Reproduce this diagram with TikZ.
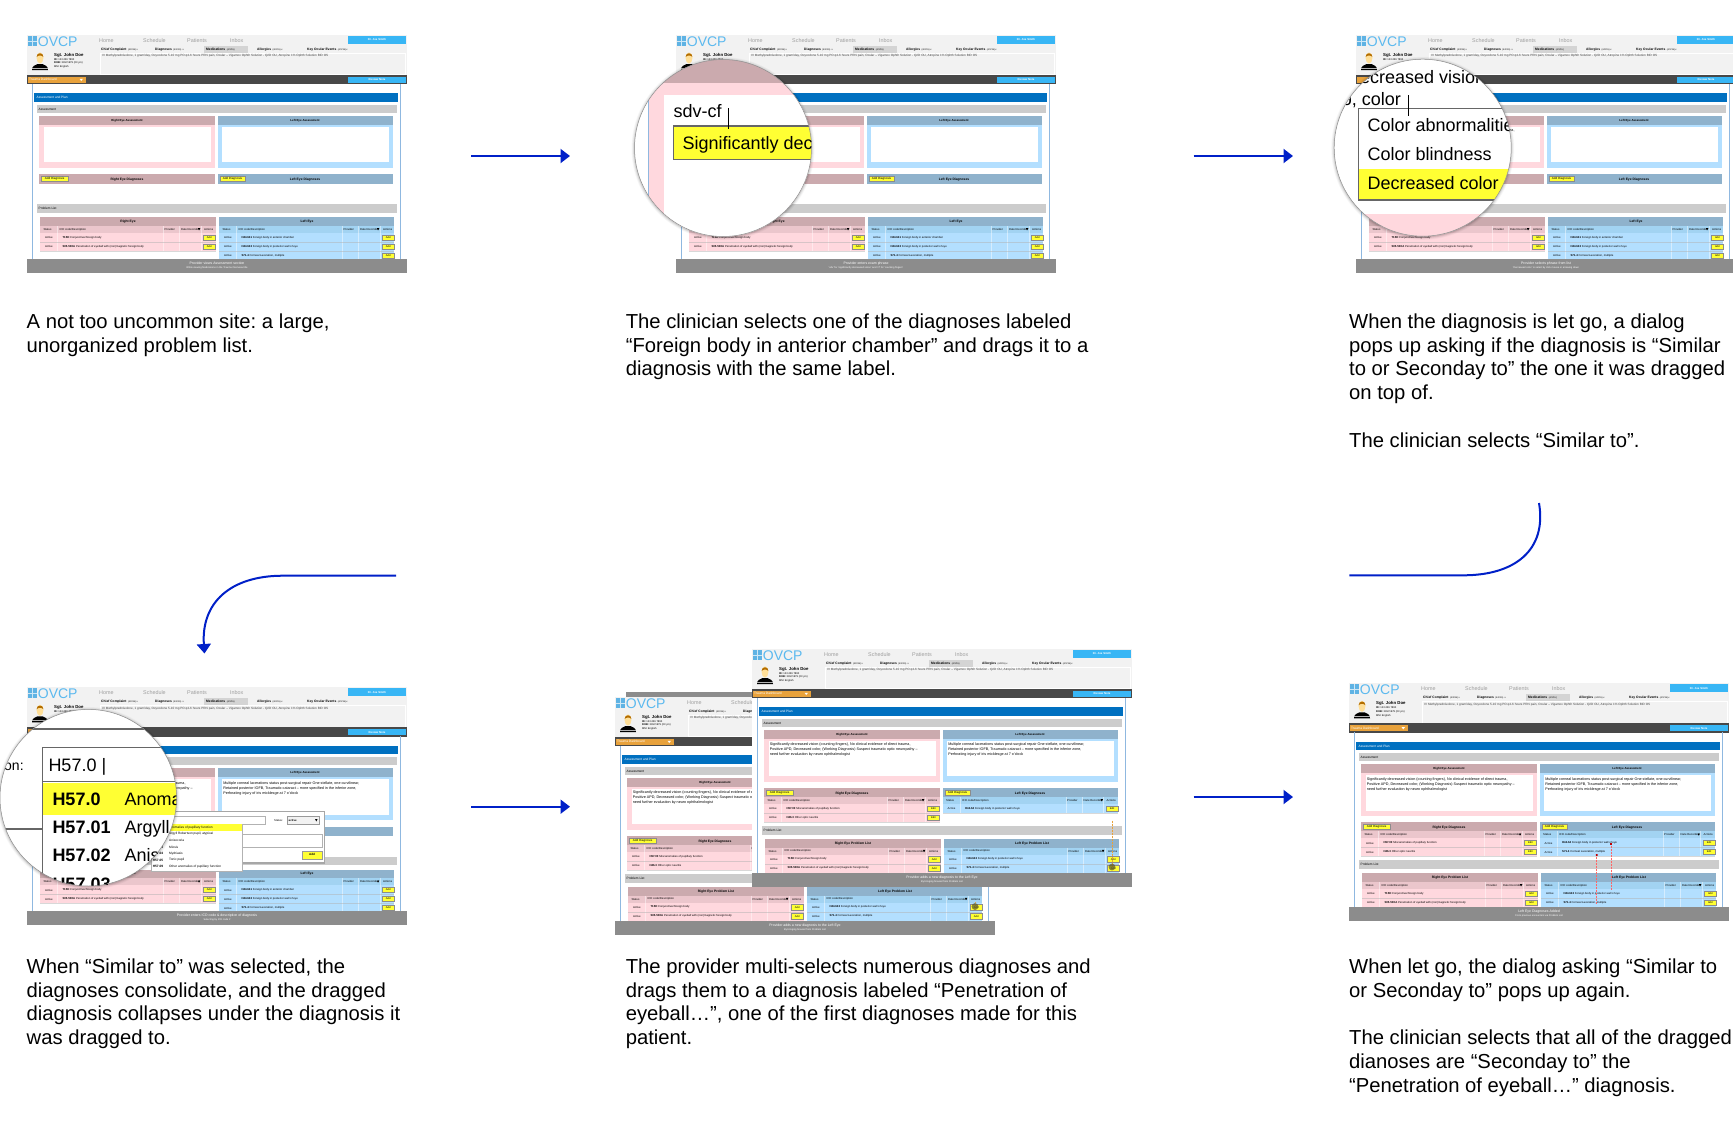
\documentclass[tikz,border=0pt]{standalone}
\usepackage{fontspec}
\setmainfont{Liberation Sans}
\usetikzlibrary{arrows.meta}
\definecolor{hdrbg}{HTML}{F2F2F2}
\definecolor{darkbar}{HTML}{484848}
\definecolor{logoblue}{HTML}{5FB3E4}
\definecolor{ovcp}{HTML}{5BB9EF}
\definecolor{sky}{HTML}{38B6F5}
\definecolor{amber}{HTML}{E8A23C}
\definecolor{planblue}{HTML}{0070C0}
\definecolor{secgray}{HTML}{CCCCCC}
\definecolor{rosehead}{HTML}{CBAAAE}
\definecolor{rosebody}{HTML}{FFD8DE}
\definecolor{rosesub}{HTML}{EBC6CC}
\definecolor{bluehead}{HTML}{8FB2CC}
\definecolor{bluebody}{HTML}{B3DFFF}
\definecolor{bluesub}{HTML}{A2D3F2}
\definecolor{btn}{HTML}{FFFF33}
\definecolor{footgray}{HTML}{8C8C8C}
\definecolor{framec}{HTML}{8FB8E0}
\definecolor{flowblue}{HTML}{0020C8}
\definecolor{lensline}{HTML}{666666}
\newcommand\fsz[1]{\fontsize{#1}{#1}\selectfont}
\newif\iflensed
\tikzset{
  x=1pt,y=-1pt,
  lbl/.style={inner sep=0,anchor=west,text=black,font=\fsz{2.8}},
  ctr/.style={inner sep=0,anchor=center,text=black,font=\fsz{3}},
  whitelbl/.style={ctr,text=white,font=\fsz{3.2}\bfseries},
  navlbl/.style={lbl,text=black!38,font=\fsz{5.4}},
  tablbl/.style={lbl,font=\fsz{3.3}\bfseries},
  bigtxt/.style={inner sep=0,anchor=base west,text=black,font=\fsz{18}},
  caption/.style={inner sep=0,anchor=north west,align=left,text=black,font=\fontsize{20.25}{23.9}\selectfont\frenchspacing},
  btnbox/.style={fill=btn,draw=black!45,line width=.3},
  flow/.style={draw=flowblue,line width=2,line cap=butt},
  flowarrow/.style={flow,-{Triangle[width=14,length=9.5]}},
  assessbody/.style={inner sep=0,anchor=north west,align=left,text=black,font=\fontsize{3.7}{5}\selectfont},
}
\newcommand\basescreen{%
  \fill[white] (0,0) rectangle (380,238);
  \fill[hdrbg] (0,0) rectangle (380,40);
  \fill[logoblue] (1,1) rectangle (10.3,11);
  \draw[white,opacity=.7,line width=.5] (5.65,1)--(5.65,11) (1,6)--(10.3,6);
  \node[lbl,text=ovcp,font=\fsz{14}] at (10.7,6.2) {OVCP};
  \node[navlbl] at (72,5.6) {Home};
  \node[navlbl] at (116,5.6) {Schedule};
  \node[navlbl] at (160,5.6) {Patients};
  \node[navlbl] at (203,5.6) {Inbox};
  \fill[sky] (321,.7) rectangle (379,9);
  \node[whitelbl,font=\fsz{2.8}\bfseries] at (350,4.8) {Dr. Joe Smith};
  \fill[black!17] (177,11) rectangle (221,18);
  \draw[white,line width=.4] (73,17.8) rectangle (378,39.5);
  \node[tablbl] at (74,14.2) {Chief Complaint {\mdseries\fsz{2.3} (4/2/15) x}};
  \node[tablbl] at (128,14.2) {Diagnoses {\mdseries\fsz{2.3} (4/2/15)\ \ x}};
  \node[tablbl] at (179,14.2) {Medications {\mdseries\fsz{2.3} (4/2/15)}};
  \node[tablbl] at (230,14.2) {Allergies {\mdseries\fsz{2.3} (4/2/15) x}};
  \node[tablbl] at (280,14.2) {Key Ocular Events {\mdseries\fsz{2.3} (4/2/15) x}};
  \node[lbl,font=\fsz{3.1},text=black!75] at (75,21) {IV Methylprednisolone, 1 gram/day, Oxycodone 5-10 mg PO q4-6 hours PRN pain, Ocular -- Vigamox Ophth Solution - Q2D OU, Atropine 1\% Ophth Solution BID OS};
  % portrait
  \fill[black] (5,35) .. controls (5,31) and (8,30) .. (10.5,29) -- (15.5,29) .. controls (18,30) and (21,31) .. (21,35) -- cycle;
  \fill[white!70!black] (5,33) rectangle (21,33.5);
  \fill[orange!30!white!85!yellow] (13,23) ellipse [x radius=3.4,y radius=5.6];
  \fill[orange!65!black!85!yellow] (9.6,22) .. controls (9.4,17) and (16.6,17) .. (16.4,22) .. controls (15,20) and (11,20) .. (9.6,22) -- cycle;
  \node[lbl,font=\fsz{4.3}\bfseries] at (27,20) {Sgt. John Doe};
  \node[lbl,font=\fsz{2.6}] at (27,24.4) {\textbf{ID:} 123 456 7890};
  \iflensed\else
  \node[lbl,font=\fsz{2.6}] at (27,28.3) {\textbf{DOB:} 3/22/1979 (23 y/o)};
  \node[lbl,font=\fsz{2.6}] at (27,32.3) {MM: English};
  \fi
  \fill[darkbar] (0,40) rectangle (380,49.3);
  \fill[amber] (.5,41.5) rectangle (58.5,48);
  \iflensed\else
  \node[lbl,text=white,font=\fsz{3.2}] at (2,44.8) {Trauma Dashboard};
  \fill[white] (52.5,43.8) -- (56,43.8) -- (54.25,46) -- cycle;
  \fi
  \fill[sky] (321,41.5) rectangle (379,48);
  \node[whitelbl,font=\fsz{2.8}\bfseries] at (350,44.8) {Review Note};
  \draw[framec,line width=.6] (5.3,49)--(5.3,224) (373.3,49)--(373.3,224);
  \fill[planblue] (7.3,58.3) rectangle (371.3,66.7);
  \fill[secgray] (9.7,69.7) rectangle (369.7,78);
  \iflensed\else
  \node[lbl,text=white,font=\fsz{3.2}] at (9.5,62.6) {Assessment and Plan};
  \node[lbl,font=\fsz{3.2}] at (11.5,74) {Assessment};
  \fi
}
\newcommand\assess[2]{%
  \fill[rosebody] (12.3,81) rectangle (187.7,132.7);
  \fill[rosehead] (12.3,81) rectangle (187.7,90);
  \fill[white] (16.7,92) rectangle (184.3,127.3);
  \iflensed\else\node[ctr,font=\fsz{2.9}\bfseries] at (100,85.6) {Right Eye Assessment};\fi
  \fill[bluebody] (191,81) rectangle (365.7,132.7);
  \fill[bluehead] (191,81) rectangle (365.7,90);
  \fill[white] (194.7,92) rectangle (361.7,127.3);
  \node[ctr,font=\fsz{2.9}\bfseries] at (278,85.6) {Left Eye Assessment};
  \node[assessbody] at (17.7,94) {#1};
  \node[assessbody] at (196.2,94) {#2};
}
\newcommand\dtable[7]{%
  \fill[#4] (#1,#3) rectangle (#2,{#3+7});
  \fill[#5] (#1,{#3+7}) rectangle (#2,{#3+7+9*#6});
  \node[lbl] at ({#1+3},{#3+3.6}) {Status};
  \node[lbl] at ({#1+19},{#3+3.3}) {ICD code/Description};
  \node[lbl] at ({#1+124},{#3+3.6}) {Provider};
  \node[lbl] at ({#1+140.5},{#3+3.6}) {Date Recorded};
  \fill[black] ({#1+157.5},{#3+2.2}) -- ({#1+160},{#3+2.2}) -- ({#1+158.75},{#3+4.4}) -- cycle;
  \node[lbl] at ({#1+163.5},{#3+3.6}) {Actions};
  \draw[white,opacity=.45,line width=.4] ({#1+17},#3) -- ({#1+17},{#3+7+9*#6}) ({#1+123},#3) -- ({#1+123},{#3+7+9*#6}) ({#1+139},#3) -- ({#1+139},{#3+7+9*#6}) ({#1+160.5},#3) -- ({#1+160.5},{#3+7+9*#6});
  \foreach \codeval/\descval/\btnval [count=\rowi] in {#7}{
    \pgfmathsetmacro\rowy{#3+7+9*(\rowi-.5)}
    \draw[black!30,opacity=.5,line width=.25] (#1,{\rowy+4.5}) -- (#2,{\rowy+4.5});
    \node[lbl] at ({#1+4.5},{\rowy+.3}) {Active};
    \node[lbl] at ({#1+22},\rowy) {\textbf{\codeval}\ \descval};
    \draw[btnbox] ({#1+163},{\rowy-2.8}) rectangle ({#1+175},{\rowy+2.8});
    \node[ctr,font=\fsz{2.6}] at ({#1+169},\rowy) {\btnval};
  }
}
\newcommand\probtables[2]{%
  \fill[rosehead] (13.3,#1) rectangle (188.7,{#1+8.7});
  \node[ctr,font=\fsz{3.3}\bfseries] at (101,{#1+4.5}) {Right Eye#2};
  \dtable{13.3}{188.7}{#1+8.7}{rosesub}{rosebody}{2}{T15H/Conjunctival foreign body/Add,S05.50XA/Penetration of eyeball with (non)magnetic foreign body/Add}
  \fill[bluehead] (192.3,#1) rectangle (367.3,{#1+8.7});
  \node[ctr,font=\fsz{3.3}\bfseries] at (280,{#1+4.5}) {Left Eye#2};
}
\newcommand\layoutA{%
  \fill[rosehead] (12.3,139.3) rectangle (187.7,149);
  \iflensed\else
  \node[ctr,font=\fsz{3.3}\bfseries] at (100,145) {Right Eye Diagnoses};
  \draw[btnbox] (14.3,141) rectangle (41,146.3);
  \node[ctr,font=\fsz{3}] at (27.6,143.7) {Add Diagnosis};
  \fi
  \fill[bluehead] (191,139.3) rectangle (365.7,149);
  \node[ctr,font=\fsz{3.3}\bfseries] at (278,145) {Left Eye Diagnoses};
  \draw[btnbox] (193,141) rectangle (218,146.3);
  \node[ctr,font=\fsz{3}] at (205.5,143.7) {Add Diagnosis};
  \fill[secgray] (9.7,169.3) rectangle (369.7,178);
  \iflensed\else\node[lbl,font=\fsz{3.2}] at (11.5,173.6) {Problem List};\fi
  \probtables{182.3}{}
  \dtable{192.3}{367.3}{191}{bluesub}{bluebody}{4}{H44.641/Foreign body in anterior chamber/Add,H44.643/Foreign body in posterior wall of eye/Add,S71.4/{Corneal Laceration, multiple}/Add}
}
\newcommand\layoutB[1]{%
  \fill[rosehead] (12.3,139) rectangle (187.7,148);
  \node[ctr,font=\fsz{3.3}\bfseries] at (100,144.4) {Right Eye Diagnoses};
  \draw[btnbox] (14.3,141) rectangle (41,146.3);
  \node[ctr,font=\fsz{3}] at (27.6,143.7) {Add Diagnosis};
  \dtable{12.3}{187.7}{148}{rosesub}{rosebody}{2}{H57.00/Miscanomalies of pupillary function/Edit,H46.3/Other optic neuritis/Edit}
  \fill[bluehead] (191,139) rectangle (365.7,148);
  \node[ctr,font=\fsz{3.3}\bfseries] at (278,144.4) {Left Eye Diagnoses};
  \draw[btnbox] (193,141) rectangle (218,146.3);
  \node[ctr,font=\fsz{3}] at (205.5,143.7) {Add Diagnosis};
  #1
  \fill[secgray] (9.7,177) rectangle (369.7,185.7);
  \node[lbl,font=\fsz{3.2}] at (11.5,181.4) {Problem List};
  \probtables{190}{ Problem List}
  \dtable{192.3}{367.3}{198.7}{bluesub}{bluebody}{3}{H44.643/Foreign body in posterior wall of eye/Add,S71.4/{Corneal Laceration, multiple}/Add}
}
\newcommand\foot[2]{%
  \fill[footgray] (0,223.7) rectangle (380,238);
  \node[ctr,text=white,font=\fsz{3.5}] at (190,228.3) {#1};
  \node[ctr,text=white,font=\fsz{2.5}] at (190,232.8) {#2};
}
\newcommand\lensbg[3]{%
  \foreach \ringw/\ringo in {3/.03,2.2/.04,1.4/.06,.7/.08}{
    \fill[black,opacity=\ringo] (#1,{#2+.6}) circle ({#3+\ringw});
  }
  \fill[white] (#1,#2) circle (#3);
}
\newcommand\rtextfull{Significantly decreased vision (counting fingers), No clinical evidence of direct trauma,\\Positive APD, Decreased color, (Working Diagnosis) Suspect traumatic optic neuropathy --\\need further evaluation by neuro ophthalmologist}
\newcommand\ltextfull{Multiple corneal lacerations status post-surgical repair One stellate, one curvilinear,\\Retained posterior IOFB, Traumatic cataract -- more specified in the inferior zone,\\Perforating injury of iris micklesge at 7 o'clock}
\begin{document}
\begin{tikzpicture}
\clip (0,0) rectangle (1733,1138);
\fill[white] (0,0) rectangle (1733,1138);

% ---- screen 1
\begin{scope}[shift={(27,35)}]
  \lensedfalse
  \basescreen \assess{}{} \layoutA
  \foot{Provider views Assessment section}{While viewing Medications in the Trauma Overview title}
\end{scope}

% ---- screen 2
\begin{scope}[shift={(676,35)}]
  \lensedtrue
  \basescreen \assess{}{} \layoutA
  \foot{Provider enters exam phrase}{`sdv' for `significantly decreased vision' and `cf' for `counting fingers'}
\end{scope}
\lensbg{723}{148}{88.5}
\begin{scope}
  \clip (723,148) circle (88.5);
  \fill[rosehead] (630,55) rectangle (820,83.3);
  \fill[rosebody] (648.3,83.3) rectangle (820,240);
  \fill[white] (664,95) rectangle (820,240);
  \draw[framec,line width=1] (648.3,83.3) -- (648.3,240);
  \fill[btn] (673.3,126) rectangle (820,159.3);
  \draw[lensline,line width=1.3] (820,126) -- (673.3,126) -- (673.3,159.3) -- (820,159.3);
  \node[bigtxt] (sdv) at (673.3,117.7) {sdv-cf};
  \node[bigtxt] (sig) at (682.3,149.3) {Significantly dec};
  \draw[black,line width=1] (728,108.3) -- (728,129.3);
\end{scope}
\draw[black!45,line width=.5] (723,148) circle (88.5);

% ---- screen 3
\begin{scope}[shift={(1356,35)}]
  \lensedtrue
  \basescreen \assess{Significantly decreased vision (counting fingers), No clinical evidence of direct trauma,}{} \layoutA
  \foot{Provider selects phrase from list}{`Decreased color' is select by click mouse or arrowing down}
\end{scope}
\lensbg{1422.7}{147.7}{88.5}
\begin{scope}
  \clip (1422.7,147.7) circle (88.5);
  \fill[rosebody] (1330,214) rectangle (1520,240);
  \fill[btn] (1358.3,169) rectangle (1520,200);
  \draw[lensline,line width=1.3] (1520,108.3) -- (1358.3,108.3) -- (1358.3,200) -- (1520,200);
  \node[bigtxt] (dv) at (1347,83.3) {Decreased vision};
  \node[bigtxt] (oc) at (1341.7,105.3) {o, color};
  \node[bigtxt] (ca) at (1367.3,131.7) {Color abnormalitie};
  \node[bigtxt] (cb) at (1367.3,160) {Color blindness};
  \node[bigtxt] (dc) at (1367.3,189) {Decreased color};
  \draw[black,line width=1] (1408,95) -- (1408,116);
\end{scope}
\draw[black!45,line width=.5] (1422.7,147.7) circle (88.5);

% ---- screen 4
\begin{scope}[shift={(27,687.3)}]
  \lensedtrue
  \basescreen \assess{\rtextfull}{\ltextfull} \layoutA
  \foot{Provider enters ICD code \& description of diagnosis}{Selecting by ICD code \#}
\end{scope}
% dialog
\fill[black,opacity=.18] (167.7,812.5) rectangle (325.3,863.5);
\draw[white!65!black,fill=white,line width=.4] (166.7,811.3) rectangle (324.3,862.3);
\draw[black!30,line width=.4] (170,816) rectangle (265,824.3);
\node[lbl] (statl) at (274,820.2) {Status:};
\draw[black!40,fill=hdrbg,line width=.4] (286.7,816) rectangle (319.3,824.3);
\node[lbl,font=\fsz{2.8}\bfseries] (acti) at (288.5,820.2) {active};
\fill[black] (315,819) -- (317.6,819) -- (316.3,821.4) -- cycle;
\draw[black!30,line width=.4] (170,834.3) rectangle (321.7,846.7);
\draw[btnbox,draw=black!40] (302.3,850.7) rectangle (321.7,859);
\node[ctr,font=\fsz{3}\bfseries] (addb) at (312,854.9) {Add};
\fill[black,opacity=.18] (151.7,825) rectangle (243.3,871.7);
\draw[black!30,fill=white,line width=.4] (150.7,824) rectangle (242.3,870.7);
\fill[btn] (150.7,824) rectangle (242.3,831.3);
\node[lbl,font=\fsz{3.2}] (it1) at (169,827.7) {Anomalies of pupillary function};
\node[lbl,font=\fsz{3.2}] (it2) at (169,834) {Argyll Robertson pupil, atypical};
\node[lbl,font=\fsz{3.2}] (it3) at (169,840.4) {Anisocoria};
\node[lbl,font=\fsz{3.2}] (it4) at (169,847) {Miosis};
\node[lbl,font=\fsz{3.2}] (it5) at (169,853.4) {Mydriasis};
\node[lbl,font=\fsz{3.2}] (it6) at (169,860) {Tonic pupil};
\node[lbl,font=\fsz{3.2}] (it7) at (169,866.4) {Other anomalies of pupillary function};
\node[lbl,font=\fsz{3.2}\bfseries] (co4) at (152.7,847) {H57.03};
\node[lbl,font=\fsz{3.2}\bfseries] (co5) at (152.7,853.4) {H57.04};
\node[lbl,font=\fsz{3.2}\bfseries] (co6) at (152.7,860) {H57.05};
\node[lbl,font=\fsz{3.2}\bfseries] (co7) at (152.7,866.4) {H57.09};
% lens 4
\lensbg{88.3}{797.7}{88.3}
\begin{scope}
  \clip (88.3,797.7) circle (88.3);
  \draw[lensline,line width=1.2] (0,729) -- (180,729);
  \draw[lensline,line width=1.2] (180,747.7) -- (42.3,747.7) -- (42.3,900);
  \draw[lensline,line width=1.2] (42.3,781.7) -- (180,781.7);
  \fill[btn] (42.9,782.7) rectangle (180,815.3);
  \draw[lensline,line width=1.2] (0,829) -- (42.3,829);
  \node[bigtxt,font=\fsz{14}] (onl) at (4,770) {on:};
  \node[bigtxt] (inp) at (48.3,771.7) {H57.0 \textbar};
  \node[bigtxt,font=\fsz{18}\bfseries] (c0) at (52.3,805) {H57.0};
  \node[bigtxt] (d0) at (124.3,805) {Anoma};
  \node[bigtxt,font=\fsz{18}\bfseries] (c1) at (52.3,833.3) {H57.01};
  \node[bigtxt] (d1) at (124.3,833.3) {Argyll};
  \node[bigtxt,font=\fsz{18}\bfseries] (c2) at (52.3,861.7) {H57.02};
  \node[bigtxt] (d2) at (124.3,861.7) {Anis};
  \node[bigtxt,font=\fsz{18}\bfseries] (c3) at (52.3,890) {H57.03};
\end{scope}
\draw[black!45,line width=.5] (88.3,797.7) circle (88.3);

% ---- screen 5, back
\fill[footgray] (626,692) rectangle (752,698);
\begin{scope}[shift={(615,697)}]
  \lensedfalse
  \basescreen \assess{\rtextfull}{\ltextfull}
  \layoutB{\dtable{191}{365.7}{148}{bluesub}{bluebody}{1}{H44.64/Foreign body in posterior wall of eye/Edit}}
  \draw[amber,densely dotted,line width=.5] (360,205) -- (360,209.5);
  \fill[black!40!olive,opacity=.75] (360,209.5) circle (3.4);
  \foot{Provider adds a new diagnosis to the Left Eye}{By bringing forward from Problem List}
\end{scope}
% ---- screen 5, front
\begin{scope}[shift={(752,649)}]
  \basescreen \assess{\rtextfull}{\ltextfull}
  \layoutB{\dtable{191}{365.7}{148}{bluesub}{bluebody}{1}{H44.64/Foreign body in posterior wall of eye/Edit}}
  \draw[amber,densely dotted,line width=.5] (360,171.7) -- (360,218);
  \fill[black!40!olive,opacity=.75] (360,218) circle (3.4);
  \foot{Provider adds a new diagnosis to the Left Eye}{By bringing forward from Problem List}
\end{scope}

% ---- screen 6
\begin{scope}[shift={(1349,683.3)}]
  \basescreen \assess{\rtextfull}{\ltextfull}
  \layoutB{\dtable{191}{365.7}{148}{bluesub}{bluebody}{2}{H44.64/Foreign body in posterior wall of eye/Edit,S71.4/{Corneal Laceration, multiple}/Edit}}
  \draw[red!60!white,densely dotted,line width=.5] (247.7,171.7) -- (247.7,220) (262,160.7) -- (262,206.7);
  \fill[red!75!black] (246.9,170.9) rectangle (248.5,172.5) (261.2,159.9) rectangle (262.8,161.5);
  \foot{Left Eye Diagnoses Added}{From previous encounters via Problem List}
\end{scope}

% ---- captions
\node[caption] (cap1) at (26.5,313.3) {A not too uncommon site: a large,\\unorganized problem list.};
\node[caption] (cap2) at (625.6,313.3) {The clinician selects one of the diagnoses labeled\\``Foreign body in anterior chamber'' and drags it to a\\diagnosis with the same label.};
\node[caption] (cap3) at (1349,313.3) {When the diagnosis is let go, a dialog\\pops up asking if the diagnosis is ``Similar\\to or Seconday to'' the one it was dragged\\on top of.\\[23.9pt]The clinician selects ``Similar to''.};
\node[caption] (cap4) at (26.5,958.3) {When ``Similar to'' was selected, the\\diagnoses consolidate, and the dragged\\diagnosis collapses under the diagnosis it\\was dragged to.};
\node[caption] (cap5) at (625.6,958.3) {The provider multi-selects numerous diagnoses and\\drags them to a diagnosis labeled ``Penetration of\\eyeball\dots'', one of the first diagnoses made for this\\patient.};
\node[caption] (cap6) at (1349,958.3) {When let go, the dialog asking ``Similar to\\or Seconday to'' pops up again.\\[23.9pt]The clinician selects that all of the dragged\\dianoses are ``Seconday to'' the\\``Penetration of eyeball\dots'' diagnosis.};

% ---- connectors
\coordinate (a1s) at (471,156); \coordinate (a1e) at (570,156);
\coordinate (a2s) at (1193.5,156); \coordinate (a2e) at (1293,156);
\coordinate (a3s) at (471,806.7); \coordinate (a3e) at (570,806.7);
\coordinate (a4s) at (1193.5,797); \coordinate (a4e) at (1293,797);
\draw[flowarrow] (a1s) -- (a1e);
\draw[flowarrow] (a2s) -- (a2e);
\draw[flowarrow] (a3s) -- (a3e);
\draw[flowarrow] (a4s) -- (a4e);
\coordinate (w1s) at (1349.3,575.3); \coordinate (w1m) at (1463.3,575.3);
\coordinate (w1a) at (1515,575.3); \coordinate (w1b) at (1547,550);
\coordinate (w1e) at (1539,503);
\draw[flow] (w1s) -- (w1m) .. controls (w1a) and (w1b) .. (w1e);
\coordinate (w2s) at (396,575.7); \coordinate (w2m) at (283,575.7);
\coordinate (w2a) at (230,575.7); \coordinate (w2b) at (201,603);
\coordinate (w2e) at (204.5,653.5);
\draw[flowarrow] (w2s) -- (w2m) .. controls (w2a) and (w2b) .. (w2e);
\end{tikzpicture}
\end{document}
